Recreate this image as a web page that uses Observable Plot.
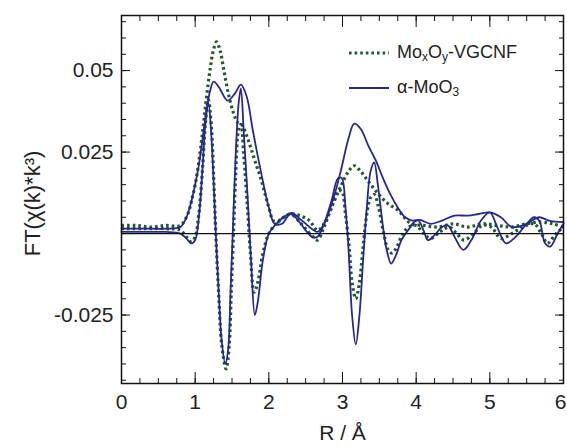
<!DOCTYPE html>
<html>
<head>
<meta charset="utf-8">
<script src="https://cdn.jsdelivr.net/npm/d3@7"></script>
<script src="https://cdn.jsdelivr.net/npm/@observablehq/plot@0.6"></script>
<style>
  html, body { margin: 0; padding: 0; background: white; }
  #wrap { position: relative; width: 567px; height: 445px; font-family: "Liberation Sans", Arial, sans-serif; }
  .leg { position: absolute; left: 349px; display: flex; align-items: center; font-size: 18px; color: #222; white-space: nowrap; }
  .leg svg { margin-right: 8px; }
  .leg sub { font-size: 12px; vertical-align: -3px; }
</style>
</head>
<body>
<div id="wrap"></div>
<script>
// ---- data ----
const seriesNames = ["MoxOy-VGCNF", "α-MoO3"];

// MoxOy-VGCNF, magnitude (dotted)
const dotMagR = [0, 0.2, 0.4, 0.6, 0.8, 0.9, 0.95, 1.0, 1.05, 1.1, 1.15, 1.2, 1.25, 1.29, 1.34, 1.39, 1.45, 1.52, 1.58, 1.63, 1.7, 1.76, 1.83, 1.89, 1.95, 2.0, 2.06, 2.12, 2.2, 2.3, 2.42, 2.55, 2.66, 2.75, 2.85, 2.98, 3.08, 3.16, 3.25, 3.35, 3.48, 3.6, 3.76, 3.93, 4.1, 4.3, 4.5, 4.7, 4.9, 5.1, 5.3, 5.5, 5.7, 5.85, 6.0];
const dotMagV = [0.0025, 0.0025, 0.002, 0.0025, 0.0025, 0.006, 0.010, 0.015, 0.022, 0.031, 0.041, 0.050, 0.0565, 0.0588, 0.056, 0.050, 0.043, 0.037, 0.034, 0.0335, 0.030, 0.026, 0.021, 0.017, 0.012, 0.008, 0.004, 0.0035, 0.005, 0.006, 0.0055, 0.004, 0.001, 0.003, 0.008, 0.0147, 0.019, 0.0208, 0.019, 0.016, 0.0123, 0.0095, 0.007, 0.003, 0.0025, 0.002, 0.003, 0.002, 0.003, 0.0025, 0.002, 0.003, 0.0035, 0.003, 0.002];

// MoxOy-VGCNF, imaginary part (dotted)
const dotImR = [0, 0.3, 0.6, 0.8, 0.88, 0.95, 1.0, 1.05, 1.1, 1.14, 1.18, 1.22, 1.25, 1.28, 1.32, 1.36, 1.42, 1.46, 1.49, 1.52, 1.55, 1.59, 1.62, 1.66, 1.71, 1.75, 1.8, 1.85, 1.92, 2.0, 2.1, 2.2, 2.3, 2.4, 2.5, 2.6, 2.66, 2.75, 2.85, 2.94, 2.99, 3.04, 3.09, 3.13, 3.18, 3.23, 3.28, 3.33, 3.38, 3.43, 3.49, 3.56, 3.62, 3.67, 3.74, 3.82, 3.9, 4.0, 4.1, 4.2, 4.32, 4.45, 4.55, 4.65, 4.78, 4.9, 5.02, 5.15, 5.3, 5.45, 5.6, 5.7, 5.78, 5.9, 6.0];
const dotImV = [0.0015, 0.0015, 0.0015, 0.001, -0.001, -0.0025, -0.001, 0.006, 0.020, 0.034, 0.041, 0.033, 0.018, 0.0, -0.019, -0.034, -0.0415, -0.035, -0.018, 0.0, 0.018, 0.032, 0.0335, 0.024, 0.008, -0.006, -0.018, -0.015, -0.006, 0.0, 0.003, 0.005, 0.006, 0.004, 0.0015, -0.001, -0.002, 0.002, 0.008, 0.013, 0.013, 0.006, -0.004, -0.015, -0.020, -0.015, -0.004, 0.006, 0.011, 0.012, 0.008, 0.0, -0.005, -0.006, -0.004, 0.0, 0.002, 0.0025, 0.0, -0.0015, 0.0005, 0.002, 0.0, -0.002, 0.0, 0.0025, 0.002, -0.0015, 0.0, 0.002, 0.003, 0.0, -0.003, 0.0, 0.002];

// alpha-MoO3, magnitude (solid)
const solMagR = [0, 0.2, 0.4, 0.6, 0.8, 0.85, 0.9, 0.95, 1.0, 1.05, 1.1, 1.15, 1.2, 1.25, 1.32, 1.44, 1.54, 1.62, 1.7, 1.78, 1.89, 2.0, 2.08, 2.18, 2.3, 2.45, 2.58, 2.66, 2.75, 2.88, 2.98, 3.08, 3.16, 3.25, 3.35, 3.45, 3.55, 3.65, 3.75, 3.85, 3.95, 4.05, 4.2, 4.35, 4.52, 4.7, 4.85, 5.0, 5.15, 5.3, 5.5, 5.67, 5.8, 6.0];
const solMagV = [0.0015, 0.0015, 0.0015, 0.0015, 0.002, 0.0035, 0.006, 0.010, 0.015, 0.021, 0.029, 0.037, 0.0435, 0.0466, 0.045, 0.0408, 0.043, 0.0457, 0.042, 0.032, 0.0193, 0.008, 0.003, 0.003, 0.0063, 0.004, 0.0015, 0.0005, 0.003, 0.011, 0.0195, 0.029, 0.0337, 0.032, 0.027, 0.0225, 0.017, 0.012, 0.008, 0.005, 0.004, 0.0042, 0.003, 0.004, 0.0055, 0.0055, 0.006, 0.0065, 0.005, 0.002, 0.003, 0.005, 0.004, 0.0035];

// alpha-MoO3, imaginary part (solid)
const solImR = [0, 0.3, 0.6, 0.8, 0.88, 0.95, 1.0, 1.05, 1.1, 1.14, 1.18, 1.22, 1.25, 1.28, 1.32, 1.36, 1.41, 1.45, 1.48, 1.51, 1.55, 1.59, 1.62, 1.66, 1.71, 1.76, 1.81, 1.85, 1.92, 2.0, 2.1, 2.2, 2.3, 2.4, 2.5, 2.6, 2.66, 2.75, 2.85, 2.94, 2.99, 3.04, 3.08, 3.13, 3.18, 3.23, 3.28, 3.33, 3.38, 3.43, 3.48, 3.55, 3.6, 3.66, 3.72, 3.8, 3.89, 3.97, 4.03, 4.1, 4.16, 4.25, 4.35, 4.43, 4.52, 4.64, 4.75, 4.88, 5.0, 5.1, 5.22, 5.35, 5.5, 5.6, 5.67, 5.75, 5.82, 5.92, 6.0];
const solImV = [0.0005, 0.0005, 0.0005, 0.0, -0.0015, -0.003, -0.002, 0.005, 0.020, 0.034, 0.040, 0.030, 0.016, 0.0, -0.018, -0.033, -0.040, -0.035, -0.018, 0.0, 0.024, 0.040, 0.0445, 0.031, 0.012, -0.009, -0.025, -0.021, -0.008, 0.0, 0.003, 0.005, 0.006, 0.004, 0.001, -0.0012, -0.001, 0.003, 0.010, 0.017, 0.017, 0.008, -0.004, -0.025, -0.034, -0.025, -0.008, 0.008, 0.019, 0.0218, 0.015, 0.002, -0.005, -0.0092, -0.007, -0.002, 0.001, 0.0035, 0.004, 0.001, -0.002, -0.0005, 0.002, 0.0025, -0.001, -0.005, -0.002, 0.004, 0.0065, 0.002, -0.003, -0.001, 0.003, 0.005, 0.004, -0.003, -0.004, 0.0, 0.003];

const xMajor = [0, 1, 2, 3, 4, 5, 6];
const yMajor = [-0.025, 0, 0.025, 0.05];
const yLabelTicks = ["-0.025", "", "0.025", "0.05"];

// ---- chart ----
const dotColor = "#1f5a26";
const solColor = "#27278c";
const pts = (R, V) => R.map((r, i) => ({r, v: V[i]}));
const xMinor = d3.range(0, 25).map(i => i * 0.25);
const yMinor = d3.range(-9, 14).map(i => Math.round(i * 5) / 1000);
const blank = () => "";
const dotted = {stroke: dotColor, strokeWidth: 3.2, strokeDasharray: "2.6,3", strokeLinecap: "butt", curve: "catmull-rom"};
const solid = {stroke: solColor, strokeWidth: 1.8, curve: "catmull-rom"};

const chart = Plot.plot({
  width: 567,
  height: 445,
  marginLeft: 121,
  marginRight: 4,
  marginTop: 15,
  marginBottom: 62,
  x: {domain: [0, 6], label: null},
  y: {domain: [-0.046, 0.0669], label: null},
  style: {fontFamily: "'Liberation Sans', Arial, sans-serif", fontSize: "21px", color: "#222", background: "white"},
  marks: [
    Plot.line(pts(dotMagR, dotMagV), {x: "r", y: "v", ...dotted}),
    Plot.line(pts(dotImR, dotImV), {x: "r", y: "v", ...dotted}),
    Plot.line(pts(solMagR, solMagV), {x: "r", y: "v", ...solid}),
    Plot.line(pts(solImR, solImV), {x: "r", y: "v", ...solid}),
    Plot.ruleY([0], {stroke: "#111", strokeWidth: 1.2}),
    Plot.frame({stroke: "#111", strokeWidth: 1.5}),
    // x axis: minor and major ticks inward, bottom and top
    Plot.axisX(xMinor, {anchor: "bottom", tickSize: -5, tickFormat: blank, label: null, stroke: "#111"}),
    Plot.axisX(xMajor, {anchor: "bottom", tickSize: -11, tickFormat: blank, label: null, stroke: "#111"}),
    Plot.axisX(xMinor, {anchor: "top", tickSize: -5, tickFormat: blank, label: null, stroke: "#111"}),
    Plot.axisX(xMajor, {anchor: "top", tickSize: -11, tickFormat: blank, label: null, stroke: "#111"}),
    Plot.axisX(xMajor.slice(0, -1), {anchor: "bottom", tickSize: 0, tickPadding: 11, tickFormat: d => String(d), label: null}),
    Plot.axisX(xMajor.slice(-1), {anchor: "bottom", tickSize: 0, tickPadding: 11, dx: -3, tickFormat: d => String(d), label: null}),
    // y axis
    Plot.axisY(yMinor, {anchor: "left", tickSize: -5, tickFormat: blank, label: null, stroke: "#111"}),
    Plot.axisY(yMajor, {anchor: "left", tickSize: -9, tickFormat: blank, label: null, stroke: "#111"}),
    Plot.axisY(yMinor, {anchor: "right", tickSize: -5, tickFormat: blank, label: null, stroke: "#111"}),
    Plot.axisY(yMajor, {anchor: "right", tickSize: -9, tickFormat: blank, label: null, stroke: "#111"}),
    Plot.axisY(yMajor, {anchor: "left", tickSize: 0, tickPadding: 8, tickFormat: (d, i) => yLabelTicks[i], label: null}),
    // axis titles
    Plot.text(["R / Å"], {frameAnchor: "bottom", dy: 50, fontSize: 21, textAnchor: "middle", lineAnchor: "middle", fill: "#222"}),
    Plot.text(["FT(χ(k)*k³)"], {frameAnchor: "left", dx: -89, dy: 4, rotate: -90, fontSize: 22, textAnchor: "middle", lineAnchor: "middle", fill: "#222"})
  ]
});

const wrap = document.getElementById("wrap");
wrap.appendChild(chart);

// legend
const legItems = [
  {top: 53, html: 'Mo<sub>x</sub>O<sub>y</sub>-VGCNF', color: dotColor, dash: "2.6,3", w: 3.2},
  {top: 88, html: 'α-MoO<sub>3</sub>', color: solColor, dash: null, w: 2}
];
for (const it of legItems) {
  const d = document.createElement("div");
  d.className = "leg";
  d.style.top = (it.top - 11) + "px";
  d.style.height = "22px";
  d.innerHTML = `<svg width="40" height="22"><line x1="0" x2="40" y1="11" y2="11" stroke="${it.color}" stroke-width="${it.w}" ${it.dash ? `stroke-dasharray="${it.dash}"` : ""}/></svg><span>${it.html}</span>`;
  wrap.appendChild(d);
}
</script>
</body>
</html>
